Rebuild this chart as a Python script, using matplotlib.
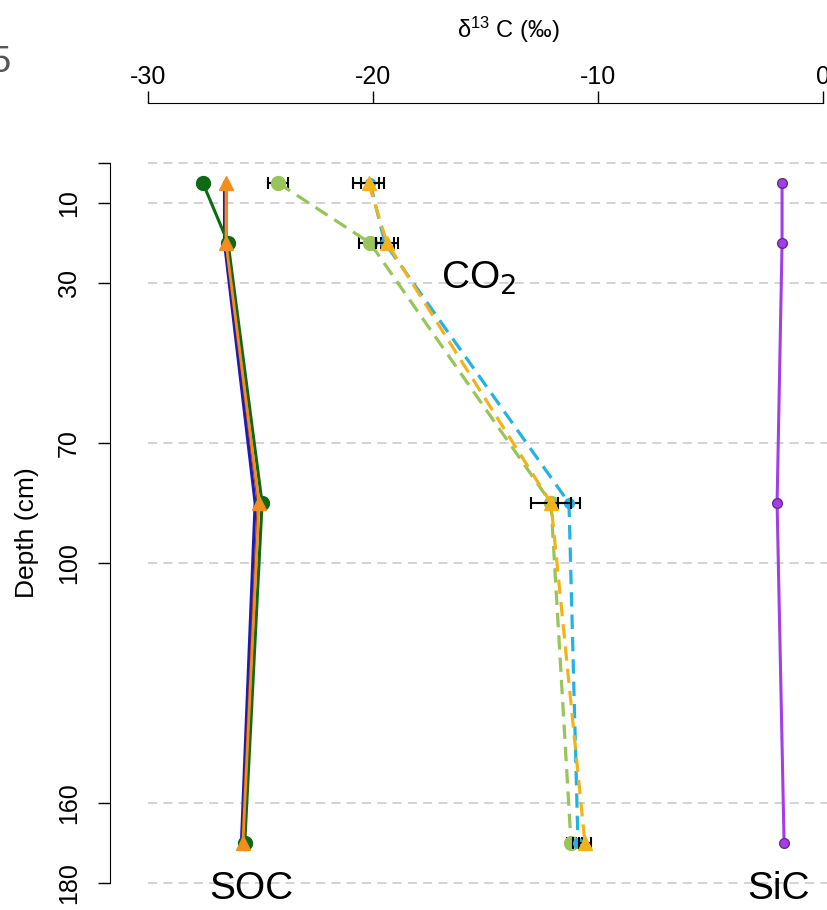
import numpy as np
import matplotlib.pyplot as plt

plt.rcParams['font.family'] = ['Liberation Sans', 'DejaVu Sans']

# sampling depths (cm)
depth = [5, 20, 85, 170]

# SOC (solid lines)
soc_green = [-27.56, -26.44, -24.93, -25.70]
soc_blue = [-26.60, -26.60, -25.24, -25.85]
soc_brown = [-26.53, -26.53, -25.10, -25.80]
soc_orange = [-26.53, -26.53, -25.07, -25.78]

# CO2 (dashed lines) with error bars
co2_green = [-24.22, -20.13, -12.09, -11.20]
co2_green_err = [0.45, 0.5, 0.0, 0.2]
co2_cyan = [-20.13, -19.47, -11.29, -10.89]
co2_cyan_err = [0.4, 0.4, 0.5, 0.2]
co2_gold = [-20.20, -19.38, -12.09, -10.58]
co2_gold_err = [0.7, 0.5, 0.87, 0.25]

# SiC
sic = [-1.82, -1.82, -2.04, -1.73]

grid_depths = [0, 10, 30, 70, 100, 160, 180]
xticks = [-30, -20, -10, 0]
yticks = [0, 10, 30, 70, 100, 160, 180]
ytick_labels = ['', '10', '30', '70', '100', '160', '180']

fig = plt.figure(figsize=(8.28, 9.10), dpi=100)
ax = fig.add_axes([110 / 828, 0, 1 - 110 / 828, 1 - 103 / 910])
ax.set_xlim(-31.689, 0.222)
ax.set_ylim(186.75, -15)

# dashed reference lines
for d in grid_depths:
    ax.plot([-30, 1], [d, d], color='#c8c8c8', lw=1.1, ls=(0, (6, 4)), zorder=1)

# SOC
ax.plot(soc_blue, depth, color='#1c1cb4', lw=2.2, zorder=3)
ax.plot(soc_brown, depth, color='#8b2a1a', lw=2.2, zorder=3)
ax.plot(soc_green, depth, color='#0b6a12', lw=2.2, marker='o', ms=10, zorder=4)
ax.plot(soc_orange, depth, color='#f58c20', lw=2.0, marker='^', ms=10, zorder=5)

# CO2
dash = (0, (4.5, 2.5))
ax.errorbar(co2_green, depth, xerr=co2_green_err, color='#98c45a', lw=2.3, ls=dash,
            marker='o', ms=10, ecolor='black', elinewidth=1.5, capsize=4, capthick=1.5, zorder=4)
ax.errorbar(co2_cyan, depth, xerr=co2_cyan_err, color='#22b2e6', lw=2.3, ls=dash,
            marker='o', ms=7, ecolor='black', elinewidth=1.5, capsize=4, capthick=1.5, zorder=5)
ax.errorbar(co2_gold, depth, xerr=co2_gold_err, color='#f4b21a', lw=2.3, ls=dash,
            marker='^', ms=10, ecolor='black', elinewidth=1.5, capsize=4, capthick=1.5, zorder=6)

# SiC
ax.plot(sic, depth, color='#a23ee6', lw=2.2, marker='o', ms=7,
        markeredgecolor='#6a2a90', zorder=4)

# axes styling
for s in ['right', 'bottom']:
    ax.spines[s].set_visible(False)
ax.spines['top'].set_bounds(-30, 0)
ax.spines['left'].set_bounds(0, 180)
ax.xaxis.tick_top()
ax.set_xticks(xticks)
ax.set_xticklabels([str(v) for v in xticks])
ax.set_yticks(yticks)
ax.set_yticklabels(ytick_labels, rotation=90, va='center')
ax.tick_params(axis='x', direction='out', length=9, width=1, pad=1, labelsize=18)
ax.tick_params(axis='y', direction='out', length=9, width=1, pad=12, labelsize=18)

fig.text(27 / 828, 1 - 533 / 910, 'Depth (cm)', rotation=90, ha='center', va='center', fontsize=19)
fig.text(508 / 828, 1 - 30 / 910, r'$\mathregular{\delta^{13}}$ C (‰)', ha='center', va='center', fontsize=17)

# region labels
ax.text(-15.3, 31.5, r'CO$_2$', fontsize=28, ha='center', va='baseline')
ax.text(-25.4, 184.0, 'SOC', fontsize=28, ha='center', va='baseline')
ax.text(-2.0, 184.0, 'SiC', fontsize=28, ha='center', va='baseline')

fig.text(-0.012, 1 - 62 / 910, '5', fontsize=26, color='#555555', ha='left', va='center')

fig.savefig('out.png', dpi=100)
